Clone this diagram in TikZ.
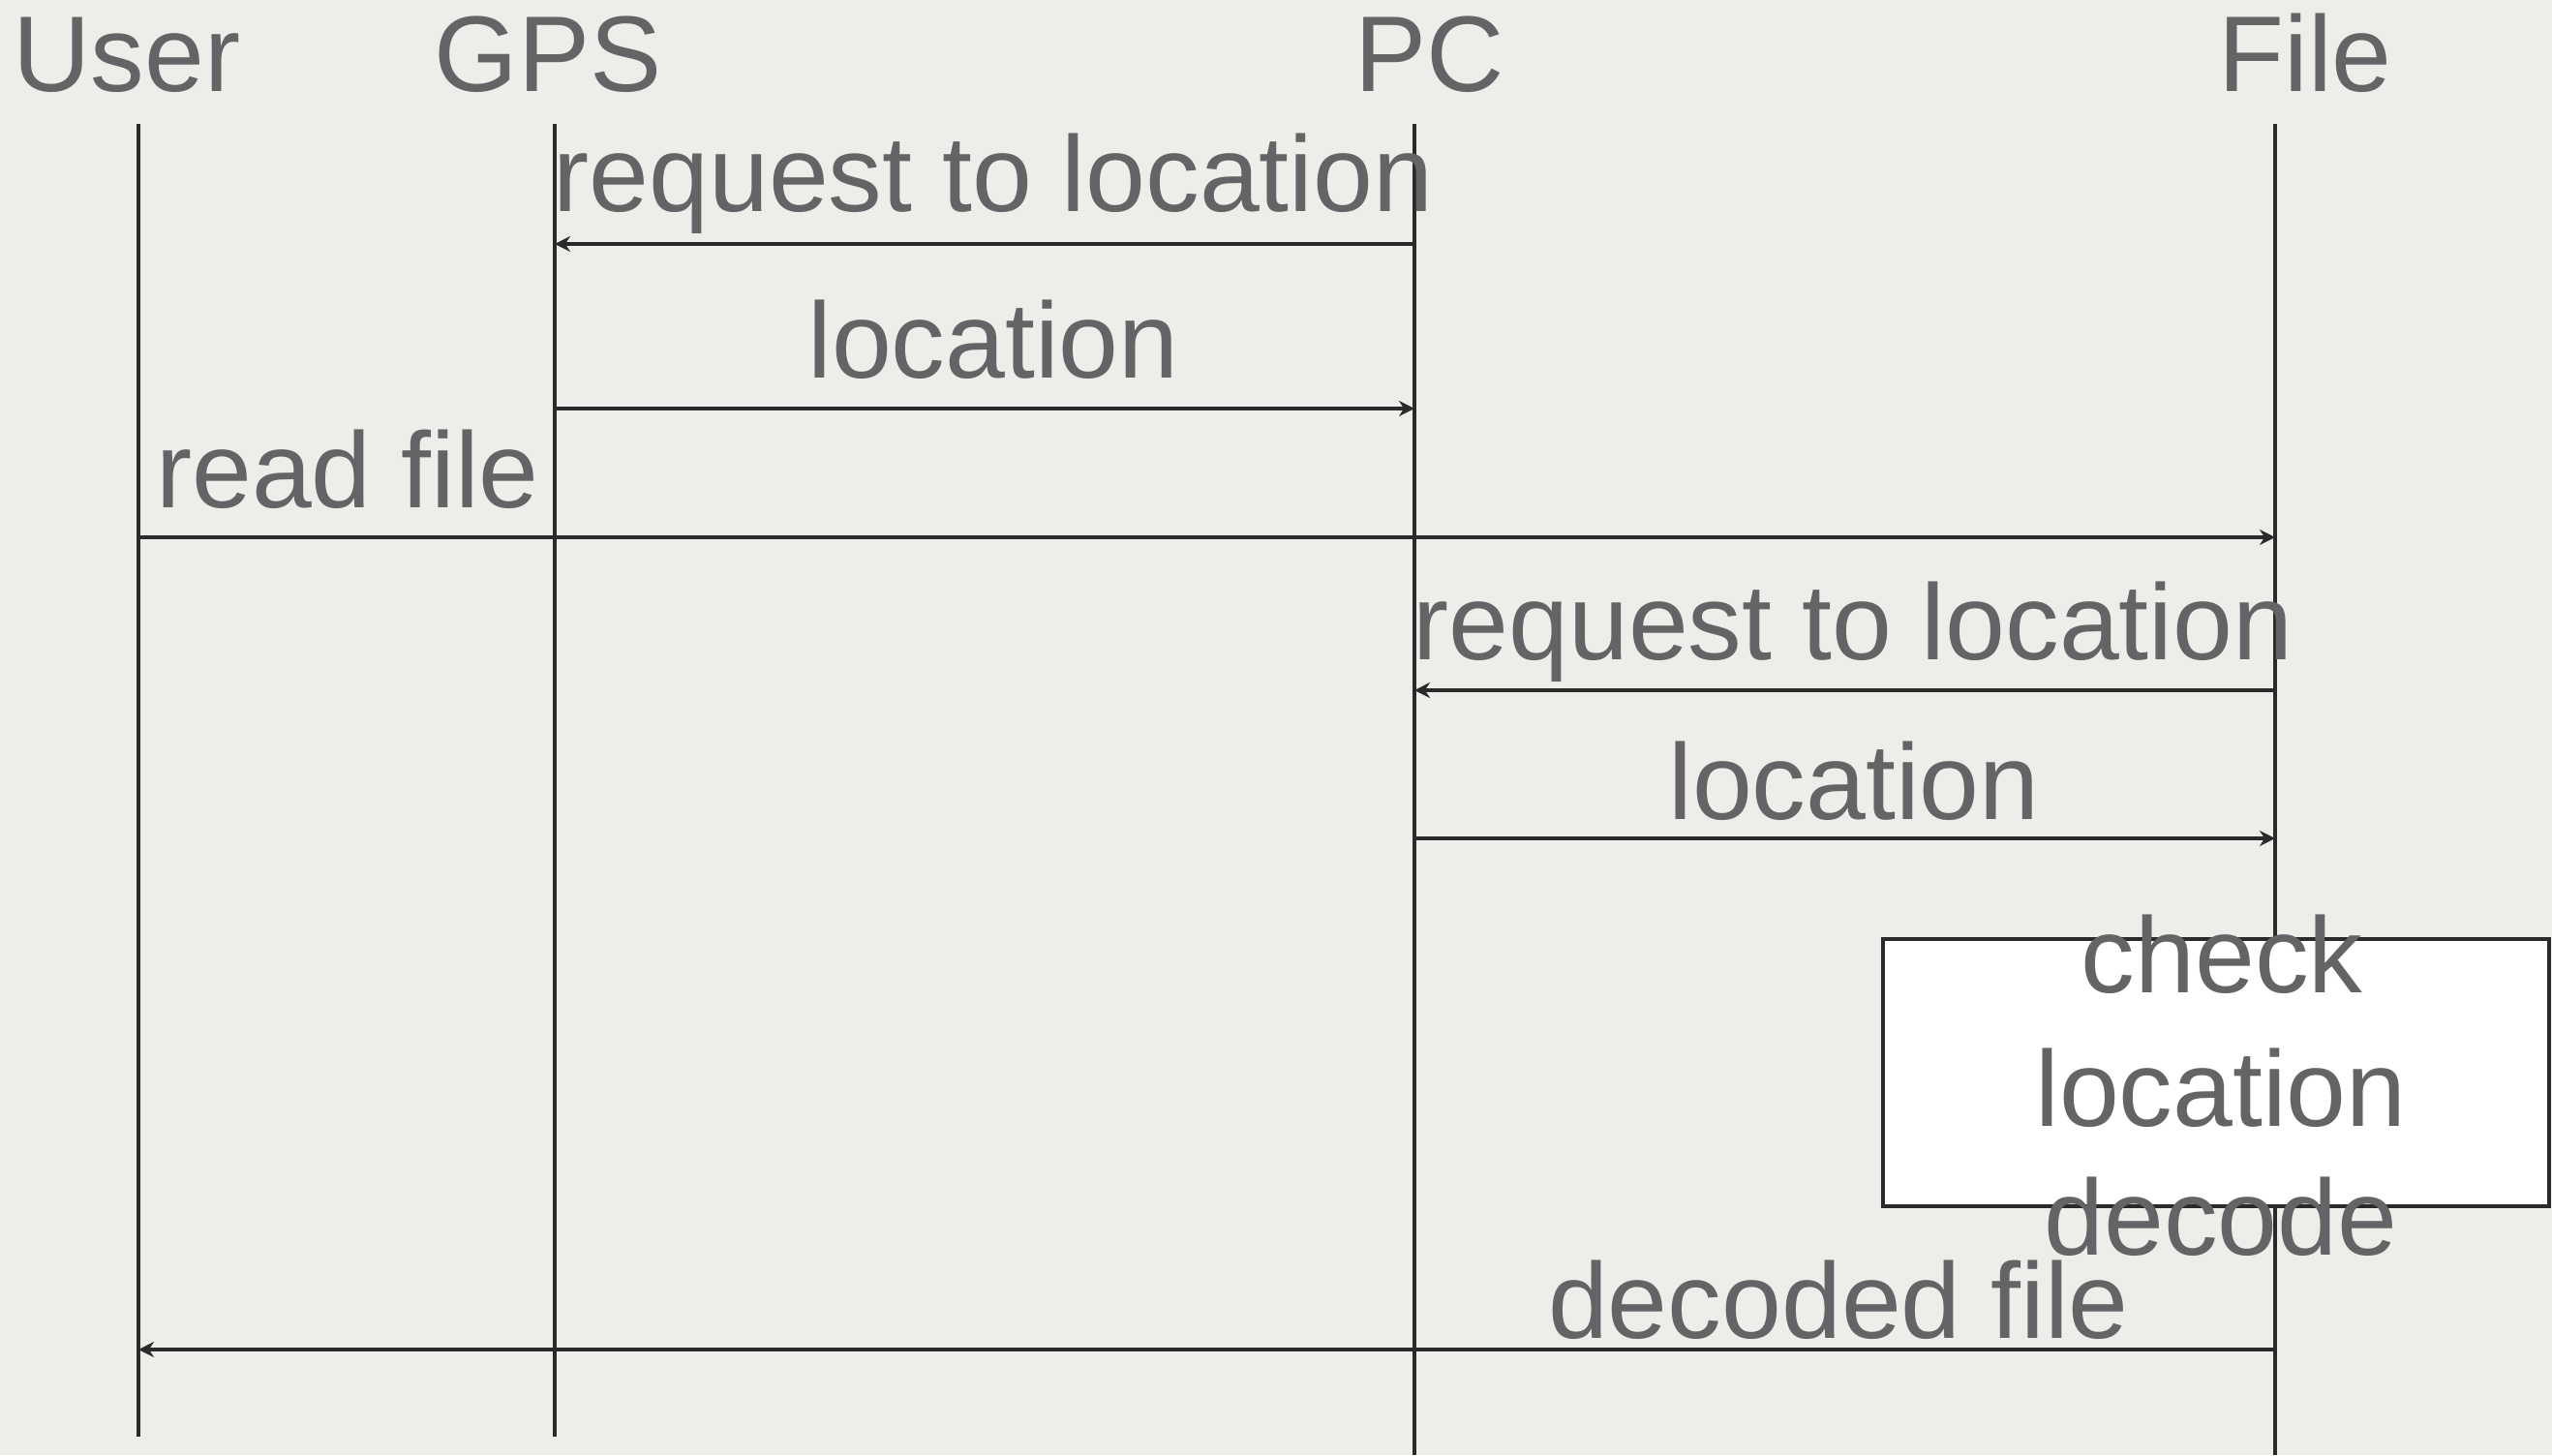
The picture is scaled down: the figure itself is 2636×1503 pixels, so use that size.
\documentclass[tikz,border=0pt]{standalone}
\usepackage{fontspec}
\setmainfont{Liberation Sans}
\usetikzlibrary{arrows.meta}
\definecolor{paper}{HTML}{EFEDEA}
\definecolor{txt}{HTML}{626466}
\definecolor{ink}{HTML}{2A2A2A}
\tikzset{
  lbl/.style={text=txt, font=\fontsize{27.8}{33.5}\selectfont, anchor=base, inner sep=0pt},
  life/.style={draw=ink, line width=0.9pt},
  msg/.style={draw=ink, line width=0.85pt, -{Stealth[length=4pt,width=4pt]}},
  actbox/.style={draw=ink, line width=1pt, fill=white}
}
\begin{document}
\begin{tikzpicture}[x=0.25pt,y=-0.25pt]
\fill[paper] (0,0) rectangle (2636,1503);
\useasboundingbox (0,0) rectangle (2636,1503);
% headers
\node[lbl] (hUser) at (131,94) {User};
\node[lbl] (hGPS) at (566,94) {GPS};
\node[lbl] (hPC) at (1477,94) {PC};
\node[lbl] (hFile) at (2381,94) {File};
% lifeline ends
\coordinate (uT) at (143,128); \coordinate (uB) at (143,1484);
\coordinate (gT) at (573,128); \coordinate (gB) at (573,1484);
\coordinate (pT) at (1461,128); \coordinate (pB) at (1461,1503);
\coordinate (fT) at (2350,128); \coordinate (fB) at (2350,1503);
\draw[life] (uT) -- (uB);
\draw[life] (gT) -- (gB);
\draw[life] (pT) -- (pB);
\draw[life] (fT) -- (fB);
% message points
\coordinate (p1) at (1461,252); \coordinate (g1) at (573,252);
\coordinate (g2) at (573,422); \coordinate (p2) at (1461,422);
\coordinate (u3) at (143,555); \coordinate (f3) at (2350,555);
\coordinate (f4) at (2350,713); \coordinate (p4) at (1461,713);
\coordinate (p5) at (1461,866); \coordinate (f5) at (2350,866);
\coordinate (f7) at (2350,1394); \coordinate (u7) at (143,1394);
\draw[msg] (p1) -- (g1);
\draw[msg] (g2) -- (p2);
\draw[msg] (u3) -- (f3);
\draw[msg] (f4) -- (p4);
\draw[msg] (p5) -- (f5);
\draw[msg] (f7) -- (u7);
% labels
\node[lbl] (m1) at (1026,218) {request to location};
\node[lbl] (m2) at (1026,390) {location};
\node[lbl] (m3) at (359,524) {read file};
\node[lbl] (m4) at (1914,681) {request to location};
\node[lbl] (m5) at (1915,846) {location};
\node[lbl] (m7) at (1899,1382) {decoded file};
% activity box
\draw[actbox] (1945,970) rectangle (2633,1246);
\node[lbl] (b1) at (2295,1025) {check};
\node[lbl] (b2) at (2294,1163) {location};
\node[lbl] (b3) at (2294,1296) {decode};
\end{tikzpicture}
\end{document}
